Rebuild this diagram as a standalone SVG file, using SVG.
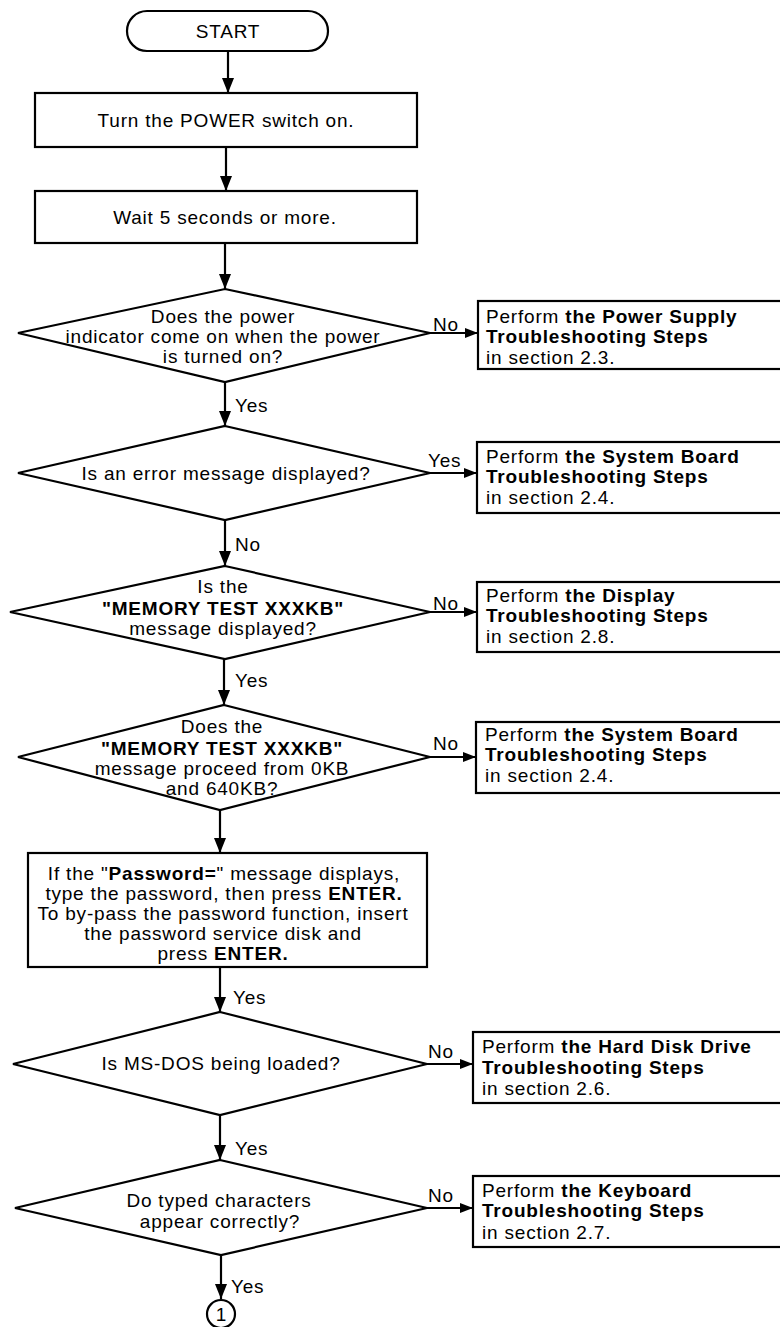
<svg xmlns="http://www.w3.org/2000/svg" width="780" height="1327" viewBox="0 0 780 1327">
<defs>
<style>
text{font-family:"Liberation Sans",Arial,Helvetica,sans-serif;font-size:19px;letter-spacing:0.8px;fill:#000}
.c{text-anchor:middle}
.b{font-weight:bold}
.s{fill:#fff;stroke:#000;stroke-width:2.2}
.l{fill:none;stroke:#000;stroke-width:2.2}
</style>
<marker id="ad" markerUnits="userSpaceOnUse" markerWidth="16" markerHeight="12" refX="15" refY="6" orient="auto" viewBox="0 0 16 12">
<path d="M0,0 L15,6 L0,12 Z" fill="#000"/>
</marker>
<marker id="ar" markerUnits="userSpaceOnUse" markerWidth="14" markerHeight="10" refX="13" refY="5" orient="auto" viewBox="0 0 14 10">
<path d="M0,0 L13,5 L0,10 Z" fill="#000"/>
</marker>
</defs>
<rect width="780" height="1327" fill="#fff"/>

<g id="connectors">
<line class="l" x1="228" y1="51" x2="228" y2="93" marker-end="url(#ad)"/>
<line class="l" x1="226" y1="147" x2="226" y2="191" marker-end="url(#ad)"/>
<line class="l" x1="225" y1="243" x2="225" y2="289" marker-end="url(#ad)"/>
<line class="l" x1="430" y1="333" x2="478" y2="333" marker-end="url(#ar)"/>
<line class="l" x1="225" y1="382" x2="225" y2="426" marker-end="url(#ad)"/>
<line class="l" x1="430" y1="473" x2="477" y2="473" marker-end="url(#ar)"/>
<line class="l" x1="225" y1="520" x2="225" y2="566" marker-end="url(#ad)"/>
<line class="l" x1="430" y1="612" x2="477" y2="612" marker-end="url(#ar)"/>
<line class="l" x1="224" y1="659" x2="224" y2="705" marker-end="url(#ad)"/>
<line class="l" x1="430" y1="757" x2="476" y2="757" marker-end="url(#ar)"/>
<line class="l" x1="220" y1="810" x2="220" y2="853" marker-end="url(#ad)"/>
<line class="l" x1="220" y1="967" x2="220" y2="1012" marker-end="url(#ad)"/>
<line class="l" x1="427" y1="1064" x2="473" y2="1064" marker-end="url(#ar)"/>
<line class="l" x1="220" y1="1115" x2="220" y2="1160" marker-end="url(#ad)"/>
<line class="l" x1="427" y1="1208" x2="473" y2="1208" marker-end="url(#ar)"/>
<line class="l" x1="221" y1="1255" x2="221" y2="1299" marker-end="url(#ad)"/>
<text x="433" y="331">No</text>
<text x="235" y="412">Yes</text>
<text x="428" y="467">Yes</text>
<text x="235" y="551">No</text>
<text x="433" y="610">No</text>
<text x="235" y="687">Yes</text>
<text x="433" y="750">No</text>
<text x="233" y="1004">Yes</text>
<text x="428" y="1058">No</text>
<text x="235" y="1155">Yes</text>
<text x="428" y="1202">No</text>
<text x="231" y="1293">Yes</text>
</g>

<g id="start">
<rect class="s" x="127" y="11" width="201" height="40" rx="20" ry="20"/>
<text class="c" x="228" y="38">START</text>
</g>

<g id="power-on">
<rect class="s" x="35" y="93" width="382" height="54"/>
<text class="c" x="226" y="127">Turn the POWER switch on.</text>
</g>

<g id="wait">
<rect class="s" x="35" y="191" width="382" height="52"/>
<text class="c" x="225" y="224">Wait 5 seconds or more.</text>
</g>

<g id="q-power-indicator">
<polygon class="s" points="225,289 430,333 225,382 18,333"/>
<text class="c" x="223" y="323">Does the power</text>
<text class="c" x="223" y="343">indicator come on when the power</text>
<text class="c" x="223" y="363">is turned on?</text>
</g>

<g id="power-supply">
<rect class="s" x="478" y="301" width="330" height="68"/>
<text x="486" y="323">Perform <tspan class="b">the Power Supply</tspan></text>
<text x="486" y="343" class="b">Troubleshooting Steps</text>
<text x="486" y="364">in section 2.3.</text>
</g>

<g id="q-error">
<polygon class="s" points="225,426 430,473 225,520 18,473"/>
<text class="c" x="226" y="480">Is an error message displayed?</text>
</g>

<g id="system-board-1">
<rect class="s" x="477" y="442" width="330" height="71"/>
<text x="486" y="463">Perform <tspan class="b">the System Board</tspan></text>
<text x="486" y="483" class="b">Troubleshooting Steps</text>
<text x="486" y="504">in section 2.4.</text>
</g>

<g id="q-memory-displayed">
<polygon class="s" points="225,566 430,612 225,659 10,612"/>
<text class="c" x="223" y="593">Is the</text>
<text class="c b" x="223" y="615">"MEMORY TEST XXXKB"</text>
<text class="c" x="223" y="635">message displayed?</text>
</g>

<g id="display">
<rect class="s" x="477" y="582" width="330" height="70"/>
<text x="486" y="602">Perform <tspan class="b">the Display</tspan></text>
<text x="486" y="622" class="b">Troubleshooting Steps</text>
<text x="486" y="643">in section 2.8.</text>
</g>

<g id="q-memory-proceed">
<polygon class="s" points="224,705 430,757 220,810 18,757"/>
<text class="c" x="222" y="733">Does the</text>
<text class="c b" x="222" y="755">"MEMORY TEST XXXKB"</text>
<text class="c" x="222" y="775">message proceed from 0KB</text>
<text class="c" x="222" y="795">and 640KB?</text>
</g>

<g id="system-board-2">
<rect class="s" x="476" y="722" width="330" height="71"/>
<text x="485" y="741">Perform <tspan class="b">the System Board</tspan></text>
<text x="485" y="761" class="b">Troubleshooting Steps</text>
<text x="485" y="782">in section 2.4.</text>
</g>

<g id="password">
<rect class="s" x="28" y="853" width="399" height="114"/>
<text class="c" x="224" y="880">If the "<tspan class="b">Password=</tspan>" message displays,</text>
<text class="c" x="224" y="900">type the password, then press <tspan class="b">ENTER.</tspan></text>
<text class="c" x="223" y="920">To by-pass the password function, insert</text>
<text class="c" x="223" y="940">the password service disk and</text>
<text class="c" x="223" y="960">press <tspan class="b">ENTER.</tspan></text>
</g>

<g id="q-msdos">
<polygon class="s" points="220,1012 427,1064 220,1115 13,1064"/>
<text class="c" x="221" y="1070">Is MS-DOS being loaded?</text>
</g>

<g id="hard-disk">
<rect class="s" x="473" y="1032" width="330" height="71"/>
<text x="482" y="1053">Perform <tspan class="b">the Hard Disk Drive</tspan></text>
<text x="482" y="1074" class="b">Troubleshooting Steps</text>
<text x="482" y="1095">in section 2.6.</text>
</g>

<g id="q-typed">
<polygon class="s" points="220,1160 427,1208 221,1255 15,1208"/>
<text class="c" x="219" y="1207">Do typed characters</text>
<text class="c" x="220" y="1228">appear correctly?</text>
</g>

<g id="keyboard">
<rect class="s" x="473" y="1176" width="330" height="71"/>
<text x="482" y="1197">Perform <tspan class="b">the Keyboard</tspan></text>
<text x="482" y="1217" class="b">Troubleshooting Steps</text>
<text x="482" y="1239">in section 2.7.</text>
</g>

<g id="connector-1">
<circle class="s" cx="221" cy="1314" r="14"/>
<text class="c" x="221.4" y="1321">1</text>
</g>
</svg>
